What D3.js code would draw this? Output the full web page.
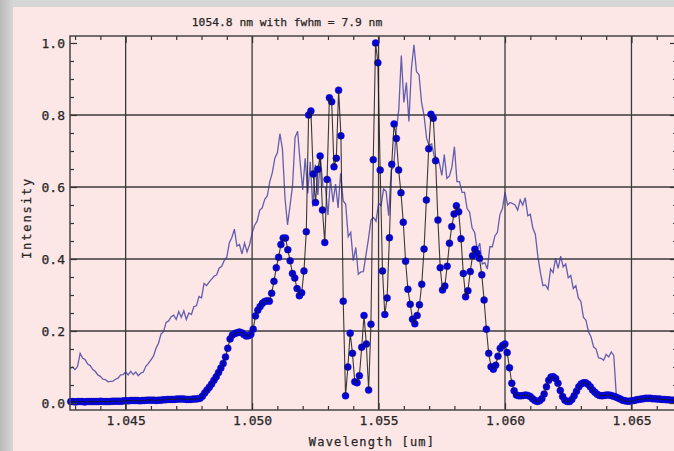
<!DOCTYPE html>
<html>
<head>
<meta charset="utf-8">
<script src="https://cdn.jsdelivr.net/npm/d3@7"></script>
<style>
  html, body { margin: 0; padding: 0; background: #d4d4d4; overflow: hidden; }
  svg { display: block; }
  text { font-family: "DejaVu Sans Mono", "Liberation Mono", monospace; fill: #262626; stroke: #262626; stroke-width: 0.25; }
</style>
</head>
<body>
<svg id="chart" width="674" height="451"></svg>
<script>
// ---- chart text ----
const titleText = "1054.8 nm with fwhm = 7.9 nm";
const xLabelText = "Wavelength [um]";
const yLabelText = "Intensity";
const xTickValues = [1.045, 1.050, 1.055, 1.060, 1.065];
const yTickValues = [0.0, 0.2, 0.4, 0.6, 0.8, 1.0];
const yGridValues = [0.2, 0.4, 0.6, 0.8];

// ---- measured spectrum (thin trace), sampled every 0.1 nm from 1.0428 um ----
const spectrumStart = 1.0428;
const spectrumStep = 0.0001;
const spectrum = [
  0.096, 0.100, 0.093, 0.102, 0.138, 0.125, 0.120, 0.108, 0.104, 0.093,
  0.088, 0.078, 0.074, 0.066, 0.065, 0.059, 0.060, 0.061, 0.066, 0.069,
  0.078, 0.079, 0.086, 0.078, 0.088, 0.079, 0.086, 0.076, 0.083, 0.086,
  0.102, 0.110, 0.120, 0.130, 0.152, 0.166, 0.192, 0.198, 0.224, 0.228,
  0.240, 0.244, 0.232, 0.254, 0.238, 0.256, 0.232, 0.250, 0.246, 0.268,
  0.270, 0.296, 0.292, 0.332, 0.326, 0.336, 0.344, 0.352, 0.356, 0.375,
  0.380, 0.396, 0.405, 0.445, 0.460, 0.483, 0.436, 0.440, 0.414, 0.444,
  0.420, 0.440, 0.472, 0.494, 0.505, 0.535, 0.542, 0.566, 0.575, 0.615,
  0.640, 0.680, 0.695, 0.748, 0.705, 0.570, 0.495, 0.548, 0.605, 0.738,
  0.755, 0.668, 0.592, 0.680, 0.582, 0.670, 0.545, 0.662, 0.578, 0.684,
  0.602, 0.598, 0.522, 0.622, 0.558, 0.608, 0.542, 0.638, 0.562, 0.552,
  0.462, 0.474, 0.395, 0.432, 0.358, 0.364, 0.365, 0.410, 0.455, 0.508,
  0.515, 0.505, 0.555, 0.548, 0.595, 0.588, 0.520, 0.648, 0.655, 0.758,
  0.815, 0.965, 0.835, 0.890, 0.782, 0.930, 0.995, 0.920, 0.912, 0.835,
  0.798, 0.735, 0.715, 0.720, 0.685, 0.682, 0.668, 0.632, 0.690, 0.624,
  0.630, 0.655, 0.712, 0.615, 0.615, 0.585, 0.585, 0.540, 0.530, 0.486,
  0.474, 0.426, 0.444, 0.386, 0.390, 0.372, 0.434, 0.434, 0.464, 0.474,
  0.524, 0.540, 0.586, 0.550, 0.557, 0.554, 0.550, 0.536, 0.564, 0.550,
  0.570, 0.520, 0.524, 0.486, 0.468, 0.406, 0.362, 0.326, 0.328, 0.316,
  0.372, 0.362, 0.402, 0.374, 0.408, 0.378, 0.386, 0.348, 0.354, 0.318,
  0.326, 0.292, 0.282, 0.238, 0.230, 0.198, 0.184, 0.156, 0.150, 0.125,
  0.124, 0.119, 0.135, 0.128, 0.142, 0.132, 0.022, 0.018, 0.016, 0.014,
  0.013, 0.012, 0.011, 0.010, 0.009, 0.009, 0.010, 0.012, 0.014, 0.015,
  0.016, 0.015, 0.013, 0.012, 0.011, 0.010, 0.010, 0.009, 0.009, 0.008, 0.008
];

// ---- retrieved pulse spectrum (dots), evenly sampled ----
const pulseStart = 1.04283;
const pulseStep = 0.0000913;
const pulse = [
  0.004, 0.004, 0.003, 0.004, 0.004, 0.004, 0.003, 0.004, 0.004, 0.004,
  0.004, 0.004, 0.004, 0.005, 0.004, 0.004, 0.004, 0.004, 0.005, 0.005,
  0.005, 0.005, 0.005, 0.006,
  0.006, 0.006, 0.007, 0.007, 0.007, 0.007, 0.006, 0.007, 0.007, 0.008,
  0.008, 0.008, 0.008, 0.007, 0.008, 0.008,
  0.009, 0.009, 0.010, 0.010, 0.010, 0.010, 0.011, 0.011, 0.011, 0.011,
  0.010, 0.010, 0.010, 0.011, 0.011, 0.012, 0.013,
  0.019, 0.028, 0.036, 0.044, 0.053, 0.063, 0.073, 0.085, 0.097, 0.110,
  0.128, 0.152, 0.178,
  0.189, 0.193, 0.195, 0.197, 0.195, 0.190, 0.186, 0.187, 0.191, 0.205,
  0.242, 0.258, 0.268, 0.277, 0.282, 0.284, 0.283, 0.305, 0.338, 0.376,
  0.405, 0.440, 0.458, 0.458, 0.426, 0.395, 0.360, 0.347, 0.318, 0.298,
  0.306, 0.367, 0.476, 0.800, 0.811, 0.636, 0.557, 0.649, 0.686, 0.536,
  0.446, 0.621, 0.848, 0.837, 0.656, 0.680, 0.869, 0.742, 0.283, 0.020,
  0.100, 0.194, 0.138, 0.059, 0.056, 0.076, 0.155, 0.243, 0.164, 0.036,
  0.219, 0.676, 1.000,
  0.945, 0.647, 0.367, 0.246, 0.292, 0.459, 0.663, 0.775, 0.735, 0.647,
  0.584, 0.502, 0.394, 0.316, 0.274, 0.233, 0.220, 0.243, 0.273, 0.330,
  0.428, 0.564, 0.706, 0.802, 0.791, 0.673, 0.508, 0.376, 0.314, 0.325,
  0.380, 0.444, 0.490, 0.525, 0.548,
  0.531, 0.456, 0.360, 0.295, 0.312, 0.365, 0.409, 0.427, 0.416, 0.402,
  0.356, 0.286, 0.205, 0.138, 0.101, 0.094, 0.105, 0.130, 0.152, 0.160,
  0.164, 0.140, 0.098, 0.055, 0.034,
  0.022, 0.020, 0.020, 0.021, 0.022, 0.021, 0.018, 0.012, 0.007, 0.004,
  0.006, 0.012, 0.025, 0.045, 0.063, 0.072, 0.073, 0.068, 0.055, 0.035,
  0.018, 0.008, 0.004, 0.004, 0.010, 0.020, 0.033, 0.045, 0.053, 0.056,
  0.056, 0.052, 0.045, 0.036,
  0.030, 0.024, 0.021, 0.020, 0.021, 0.022, 0.022, 0.021, 0.019, 0.017,
  0.014, 0.011, 0.008, 0.006, 0.005, 0.005, 0.006, 0.007, 0.009, 0.010,
  0.011, 0.012, 0.013, 0.013, 0.013, 0.012, 0.012, 0.011, 0.011, 0.010,
  0.010, 0.009, 0.009, 0.008, 0.008, 0.008
];

// ---- layout ----
const W = 674, H = 451;
const plot = { left: 70, right: 677, top: 36, bottom: 410 };

const svg = d3.select("#chart");

// window frame: grey margin on the left and top, pink panel
const defs = svg.append("defs");
const grad = defs.append("linearGradient").attr("id", "edgeGrad")
  .attr("x1", "0").attr("x2", "1").attr("y1", "0").attr("y2", "0");
grad.append("stop").attr("offset", "0").attr("stop-color", "#b9b9b9");
grad.append("stop").attr("offset", "1").attr("stop-color", "#d6d6d6");
svg.append("rect").attr("x", 0).attr("y", 0).attr("width", W).attr("height", H).attr("fill", "#d6d6d6");
svg.append("rect").attr("x", 0).attr("y", 0).attr("width", 13).attr("height", H).attr("fill", "url(#edgeGrad)");
svg.append("rect").attr("x", 13).attr("y", 7).attr("width", W - 13).attr("height", H - 7).attr("fill", "#fde6e6");

defs.append("clipPath").attr("id", "plotClip")
  .append("rect").attr("x", plot.left).attr("y", plot.top)
  .attr("width", plot.right - plot.left).attr("height", plot.bottom - plot.top);

// ---- scales ----
const x = d3.scaleLinear().domain([1.0428, 1.0668]).range([plot.left, plot.right]);
const y = d3.scaleLinear().domain([-0.0194, 1.0194]).range([plot.bottom, plot.top]);

const spectrumData = spectrum.map((v, i) => ({ w: spectrumStart + i * spectrumStep, v }));
const pulseData = pulse.map((v, i) => ({ w: pulseStart + i * pulseStep, v }));

// ---- grid ----
const grid = svg.append("g").attr("stroke", "#3a3a3a").attr("stroke-width", 1.3);
grid.selectAll("line.gx").data(xTickValues).join("line").attr("class", "gx")
  .attr("x1", d => x(d)).attr("x2", d => x(d))
  .attr("y1", plot.top).attr("y2", plot.bottom);
grid.selectAll("line.gy").data(yGridValues).join("line").attr("class", "gy")
  .attr("x1", plot.left).attr("x2", plot.right)
  .attr("y1", d => y(d)).attr("y2", d => y(d));

// ---- series ----
const line = d3.line().x(d => x(d.w)).y(d => y(d.v));

svg.append("path").datum(spectrumData)
  .attr("clip-path", "url(#plotClip)")
  .attr("d", line)
  .attr("fill", "none")
  .attr("stroke", "#3c3ca0")
  .attr("stroke-opacity", 0.8)
  .attr("stroke-width", 1.3)
  .attr("stroke-linejoin", "miter");

svg.append("g").selectAll("circle").data(pulseData).join("circle")
  .attr("cx", d => x(d.w)).attr("cy", d => y(d.v))
  .attr("r", 3.5)
  .attr("fill", "#0000f2")
  .attr("stroke", "#10108a")
  .attr("stroke-width", 0.4);

svg.append("path").datum(pulseData)
  .attr("clip-path", "url(#plotClip)")
  .attr("d", line)
  .attr("fill", "none")
  .attr("stroke", "#1a1a1a")
  .attr("stroke-opacity", 0.85)
  .attr("stroke-width", 1.1);

// ---- axes (inward ticks) ----
const xMinor = d3.range(1.043, 1.0671, 0.001).filter(v => !xTickValues.some(t => Math.abs(t - v) < 1e-6));
const yMinor = d3.range(0.05, 1.0, 0.05).filter(v => !yTickValues.some(t => Math.abs(t - v) < 1e-6));

function styleAxis(g) {
  g.select(".domain").remove();
  g.selectAll(".tick line").attr("stroke", "#333").attr("stroke-width", 1.2);
  g.selectAll("text").attr("fill", "#262626").attr("font-size", 13)
    .attr("font-family", "\"DejaVu Sans Mono\", monospace");
}

// bottom
svg.append("g").attr("transform", `translate(0,${plot.bottom})`)
  .call(d3.axisBottom(x).tickValues(xTickValues).tickFormat(d3.format(".3f")).tickSize(-7).tickPadding(6))
  .call(styleAxis);
svg.append("g").attr("transform", `translate(0,${plot.bottom})`)
  .call(d3.axisBottom(x).tickValues(xMinor).tickFormat("").tickSize(-4))
  .call(styleAxis);
// top
svg.append("g").attr("transform", `translate(0,${plot.top})`)
  .call(d3.axisTop(x).tickValues(xTickValues).tickFormat("").tickSize(-7))
  .call(styleAxis);
svg.append("g").attr("transform", `translate(0,${plot.top})`)
  .call(d3.axisTop(x).tickValues(xMinor).tickFormat("").tickSize(-4))
  .call(styleAxis);
// left
svg.append("g").attr("transform", `translate(${plot.left},0)`)
  .call(d3.axisLeft(y).tickValues(yTickValues).tickFormat(d3.format(".1f")).tickSize(-7).tickPadding(5))
  .call(styleAxis);
svg.append("g").attr("transform", `translate(${plot.left},0)`)
  .call(d3.axisLeft(y).tickValues(yMinor).tickFormat("").tickSize(-4))
  .call(styleAxis);
// right
svg.append("g").attr("transform", `translate(${plot.right},0)`)
  .call(d3.axisRight(y).tickValues(yTickValues).tickFormat("").tickSize(-7))
  .call(styleAxis);
svg.append("g").attr("transform", `translate(${plot.right},0)`)
  .call(d3.axisRight(y).tickValues(yMinor).tickFormat("").tickSize(-4))
  .call(styleAxis);

// frame
svg.append("rect")
  .attr("x", plot.left).attr("y", plot.top)
  .attr("width", plot.right - plot.left).attr("height", plot.bottom - plot.top)
  .attr("fill", "none").attr("stroke", "#444").attr("stroke-width", 1.5);

// ---- labels ----
svg.append("text").attr("x", 287).attr("y", 26)
  .attr("text-anchor", "middle").attr("font-size", 11.3)
  .text(titleText);

svg.append("text").attr("x", 372).attr("y", 446)
  .attr("text-anchor", "middle").attr("font-size", 12).attr("letter-spacing", 1.2)
  .text(xLabelText);

svg.append("text")
  .attr("transform", `translate(31,218) rotate(-90)`)
  .attr("text-anchor", "middle").attr("font-size", 12).attr("letter-spacing", 1.9)
  .text(yLabelText);
</script>
</body>
</html>
